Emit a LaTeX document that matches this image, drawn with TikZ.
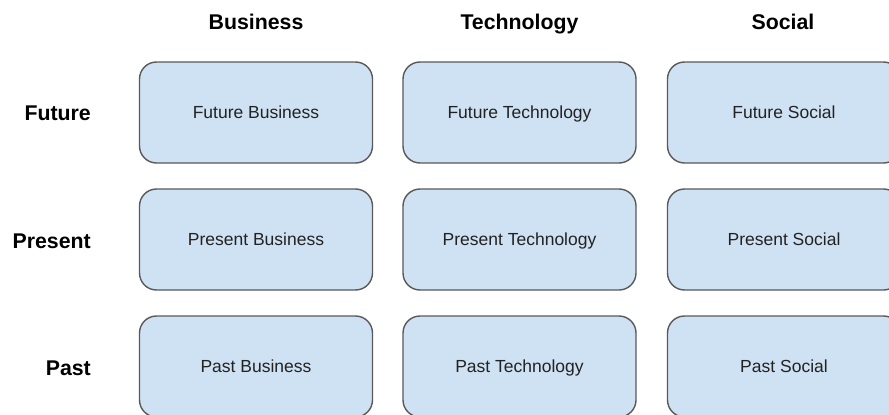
\documentclass[tikz,border=0pt]{standalone}
\usepackage{fontspec}
\setmainfont{Liberation Sans}
\definecolor{cellfill}{HTML}{CFE2F3}
\definecolor{celledge}{HTML}{595959}
\definecolor{celltext}{HTML}{222222}
\begin{document}
\begin{tikzpicture}[x=1pt,y=-1pt,
  cell/.style={draw=celledge, line width=1.4pt, fill=cellfill, rounded corners=17pt,
    minimum width=233pt, minimum height=101pt, inner sep=0pt,
    text height=12.5pt, text depth=0pt,
    font=\fontsize{17.5}{20}\selectfont, text=celltext},
  colhead/.style={font=\bfseries\fontsize{21.3}{24}\selectfont, anchor=base},
  rowhead/.style={font=\bfseries\fontsize{21.3}{24}\selectfont, anchor=base east,
    inner sep=0pt}]
  \useasboundingbox (0,0) rectangle (889,415);
  \clip (0,0) rectangle (889,415);
  % column headings
  \node[colhead] (hbus) at (256,29) {Business};
  \node[colhead] (htec) at (519.5,29) {Technology};
  \node[colhead] (hsoc) at (783,29) {Social};
  % row headings (baselines)
  \node[rowhead] (hfut) at (91,120.5) {Future};
  \node[rowhead] (hpre) at (91,248) {Present};
  \node[rowhead] (hpas) at (91,375.5) {Past};
  % grid of cells
  \node[cell] (fb) at (256,112.5) {Future Business};
  \node[cell] (ft) at (519.5,112.5) {Future Technology};
  \node[cell] (fs) at (784,112.5) {Future Social};
  \node[cell] (pb) at (256,239.5) {Present Business};
  \node[cell] (pt) at (519.5,239.5) {Present Technology};
  \node[cell] (ps) at (784,239.5) {Present Social};
  \node[cell] (ab) at (256,366.5) {Past Business};
  \node[cell] (at) at (519.5,366.5) {Past Technology};
  \node[cell] (as) at (784,366.5) {Past Social};
\end{tikzpicture}
\end{document}
